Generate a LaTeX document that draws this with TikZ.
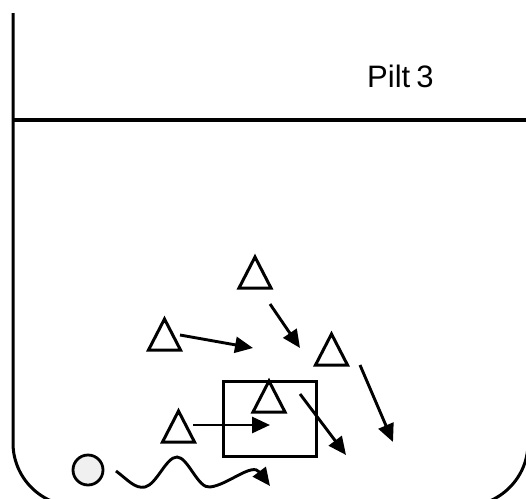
\documentclass[tikz,border=0pt]{standalone}
\usepackage{fontspec}
\setmainfont{Liberation Sans}
\usetikzlibrary{arrows.meta}

\begin{document}
\begin{tikzpicture}[x=1pt, y=-1pt,
    frameline/.style={line width=3pt},
    player/.style={line width=3pt, line join=miter},
    run/.style={line width=2.9pt, -{Triangle[length=18pt, width=16pt]}}]
    \useasboundingbox (0,0) rectangle (526,498);
    \clip (0,0) rectangle (526,498);

    % Field border
    \draw[frameline] (13,13) -- (13,443) arc[start angle=180, end angle=90, radius=63]
        -- (465,506) arc[start angle=90, end angle=0, radius=63] -- (528,13);
    \draw[line width=3.4pt] (13,120) -- (526,120);

    % Title
    \node[anchor=base west, inner sep=0, font=\fontsize{31}{36}\selectfont] (title) at (367,87) {Pilt\hspace{0.2em}3};

    % Players
    \foreach \x/\y in {255/288, 164.5/350, 331.5/365, 269/412, 178.5/442} {
        \draw[player] (\x-16,\y) -- (\x+16,\y) -- (\x,\y-31) -- cycle;
    }

    % Zone
    \draw[frameline] (223,381) rectangle (316,456);

    % Ball
    \draw[line width=2.8pt, fill=gray!12] (88,470) circle[radius=15];

    % Runs
    \draw[run] (180,335) -- (253,348);
    \draw[run] (270,304) -- (300,348);
    \draw[run] (360,365) -- (393,442);
    \draw[run] (300,394) -- (346,455);
    \draw[run] (193,425) -- (270,425);

    % Dribble
    \draw[run] (116,471) .. controls (128,480) and (135,489) .. (145,487)
        .. controls (157,484) and (166,457) .. (177,457)
        .. controls (188,457) and (198,489) .. (210,487)
        .. controls (228,485) and (252,462) .. (270,486);
\end{tikzpicture}
\end{document}
